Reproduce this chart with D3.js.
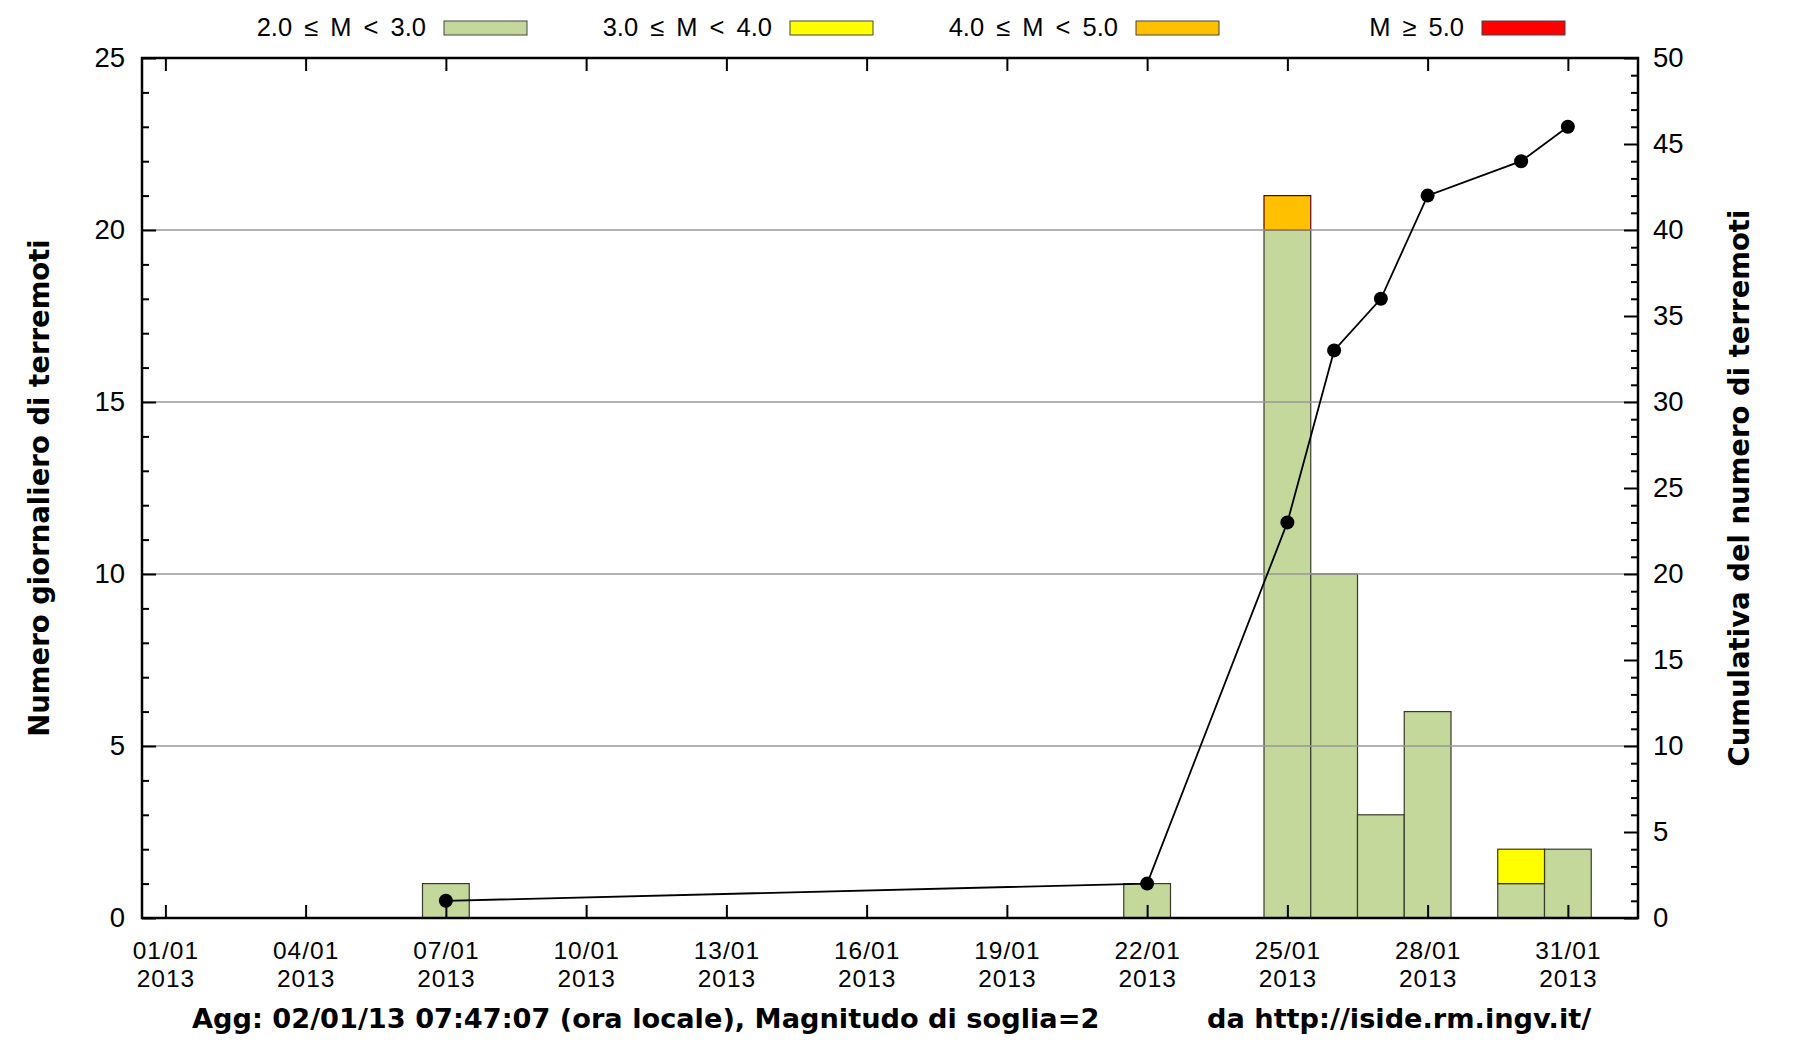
<!DOCTYPE html>
<html><head><meta charset="utf-8">
<script src="https://cdn.jsdelivr.net/npm/d3@7"></script>
<style>body{margin:0;background:#fff}svg{display:block}</style>
</head><body><svg id="c" width="1800" height="1050"></svg>
<script>
// ---- data ----
const days = ["2013-01-07","2013-01-22","2013-01-25","2013-01-26","2013-01-27","2013-01-28","2013-01-30","2013-01-31"];
const m2to3 = [1, 1, 20, 10, 3, 6, 1, 2];
const m3to4 = [0, 0, 0, 0, 0, 0, 1, 0];
const m4to5 = [0, 0, 1, 0, 0, 0, 0, 0];
const m5up  = [0, 0, 0, 0, 0, 0, 0, 0];
const cumulative = [1, 2, 23, 33, 36, 42, 44, 46];
const xTickDates = ["2013-01-01","2013-01-04","2013-01-07","2013-01-10","2013-01-13","2013-01-16","2013-01-19","2013-01-22","2013-01-25","2013-01-28","2013-01-31"];
const yTicks = [0, 5, 10, 15, 20, 25];
const y2Ticks = [0, 5, 10, 15, 20, 25, 30, 35, 40, 45, 50];
const gridValues = [5, 10, 15, 20];
const legendLabels = ["2.0 ≤ M < 3.0", "3.0 ≤ M < 4.0", "4.0 ≤ M < 5.0", "M ≥ 5.0"];
const seriesKeys = ["m2", "m3", "m4", "m5"];
const colors = ["#c4d89c", "#ffff00", "#ffc000", "#ff0000"];
const strokeColors = ["#3a3a2a", "#3a3a00", "#600000", "#700000"];
const yTitle = "Numero giornaliero di terremoti";
const y2Title = "Cumulativa del numero di terremoti";
const footLeft = "Agg: 02/01/13 07:47:07 (ora locale), Magnitudo di soglia=2";
const footRight = "da http://iside.rm.ingv.it/";

// ---- layout ----
const L = 142, R = 1638, T = 58, B = 918;
const parse = d3.utcParse("%Y-%m-%d");
const HOUR = 3600e3;
const svg = d3.select("#c");
const regFont = "'Liberation Sans', Arial, sans-serif";
const boldFont = "'DejaVu Sans', sans-serif";

const x = d3.scaleUtc()
  .domain([new Date(Date.UTC(2012, 11, 31, 12)), new Date(Date.UTC(2013, 1, 1, 12))])
  .range([L, R]);
const y = d3.scaleLinear().domain([0, 25]).range([B, T]);
const y2 = d3.scaleLinear().domain([0, 50]).range([B, T]);

const rows = days.map((d, i) => ({date: parse(d), m2: m2to3[i], m3: m3to4[i], m4: m4to5[i], m5: m5up[i]}));
const stacked = d3.stack().keys(seriesKeys)(rows);

// bars
const gBars = svg.append("g");
stacked.forEach((layer, li) => {
  gBars.selectAll(null).data(layer).enter().append("rect")
    .attr("x", d => x(new Date(+d.data.date - 12 * HOUR)))
    .attr("width", d => x(new Date(+d.data.date + 12 * HOUR)) - x(new Date(+d.data.date - 12 * HOUR)))
    .attr("y", d => y(d[1]))
    .attr("height", d => y(d[0]) - y(d[1]))
    .attr("fill", colors[li])
    .attr("stroke", strokeColors[li])
    .attr("stroke-width", 1.2);
});

// grid (front)
svg.append("g").selectAll("line").data(gridValues).enter().append("line")
  .attr("x1", L).attr("x2", R)
  .attr("y1", d => y(d)).attr("y2", d => y(d))
  .attr("stroke", "#999").attr("stroke-width", 1.5);

// axes
const tickFontSize = 27.5;
const xTickFontSize = 24.5;
function styleAxis(g) {
  g.select(".domain").remove();
  g.selectAll(".tick line").attr("stroke", "#000").attr("stroke-width", 2);
  g.selectAll("text").attr("font-family", regFont).attr("font-size", tickFontSize).attr("fill", "#000");
}
const yMinor = d3.range(0, 26, 1).filter(v => v % 5 !== 0);
const y2Minor = d3.range(0, 51, 1).filter(v => v % 5 !== 0);

svg.append("g").attr("transform", `translate(${L},0)`)
  .call(d3.axisLeft(y).tickValues(yMinor).tickSize(-7).tickFormat(""))
  .call(styleAxis);
svg.append("g").attr("transform", `translate(${L},0)`)
  .call(d3.axisLeft(y).tickValues(yTicks).tickSize(-14).tickSizeOuter(0).tickPadding(17))
  .call(styleAxis);
svg.append("g").attr("transform", `translate(${R},0)`)
  .call(d3.axisRight(y2).tickValues(y2Minor).tickSize(-7).tickFormat(""))
  .call(styleAxis);
svg.append("g").attr("transform", `translate(${R},0)`)
  .call(d3.axisRight(y2).tickValues(y2Ticks).tickSize(-14).tickSizeOuter(0).tickPadding(15))
  .call(styleAxis);
svg.append("g").attr("transform", `translate(0,${T})`)
  .call(d3.axisTop(x).tickValues(xTickDates.map(parse)).tickSize(-13).tickFormat(""))
  .call(styleAxis);
const fmtDM = d3.utcFormat("%d/%m"), fmtY = d3.utcFormat("%Y");
const gx = svg.append("g").attr("transform", `translate(0,${B})`)
  .call(d3.axisBottom(x).tickValues(xTickDates.map(parse)).tickSize(-13).tickFormat(""))
  .call(styleAxis);
gx.selectAll(".tick").each(function(d) {
  const g = d3.select(this);
  g.append("text").attr("font-family", regFont).attr("font-size", xTickFontSize).attr("fill", "#000")
    .attr("letter-spacing", 1).attr("text-anchor", "middle").attr("x", 0).attr("y", 40.5).text(fmtDM(d));
  g.append("text").attr("font-family", regFont).attr("font-size", xTickFontSize).attr("fill", "#000")
    .attr("letter-spacing", 1).attr("text-anchor", "middle").attr("x", 0).attr("y", 69).text(fmtY(d));
});

// frame
svg.append("rect").attr("x", L).attr("y", T).attr("width", R - L).attr("height", B - T)
  .attr("fill", "none").attr("stroke", "#000").attr("stroke-width", 2.5);

// cumulative line
const pts = days.map((d, i) => ({date: parse(d), v: cumulative[i]}));
svg.append("path").datum(pts)
  .attr("d", d3.line().x(d => x(d.date)).y(d => y2(d.v)))
  .attr("fill", "none").attr("stroke", "#000").attr("stroke-width", 1.8);
svg.append("g").selectAll("circle").data(pts).enter().append("circle")
  .attr("cx", d => x(d.date)).attr("cy", d => y2(d.v)).attr("r", 7).attr("fill", "#000");

// legend
const lg = svg.append("g");
legendLabels.forEach((lab, i) => {
  const bx = 444 + i * 346;
  lg.append("rect").attr("x", bx).attr("y", 21).attr("width", 83).attr("height", 14)
    .attr("fill", colors[i]).attr("stroke", "#444").attr("stroke-width", 1);
  lg.append("text").attr("x", bx - 18).attr("y", 36).attr("text-anchor", "end")
    .attr("font-family", regFont).attr("font-size", 25.5).attr("word-spacing", 5)
    .text(lab);
});

// axis titles
svg.append("text").attr("transform", "translate(49,488) rotate(-90)")
  .attr("text-anchor", "middle").attr("font-family", boldFont).attr("font-weight", "bold")
  .attr("font-size", 27.5).text(yTitle);
svg.append("text").attr("transform", "translate(1749,488) rotate(-90)")
  .attr("text-anchor", "middle").attr("font-family", boldFont).attr("font-weight", "bold")
  .attr("font-size", 27.5).text(y2Title);

// footer
svg.append("text").attr("x", 192).attr("y", 1028)
  .attr("font-family", boldFont).attr("font-weight", "bold").attr("font-size", 27.2).text(footLeft);
svg.append("text").attr("x", 1207).attr("y", 1028)
  .attr("font-family", boldFont).attr("font-weight", "bold").attr("font-size", 27.2).text(footRight);
</script>
</body></html>
